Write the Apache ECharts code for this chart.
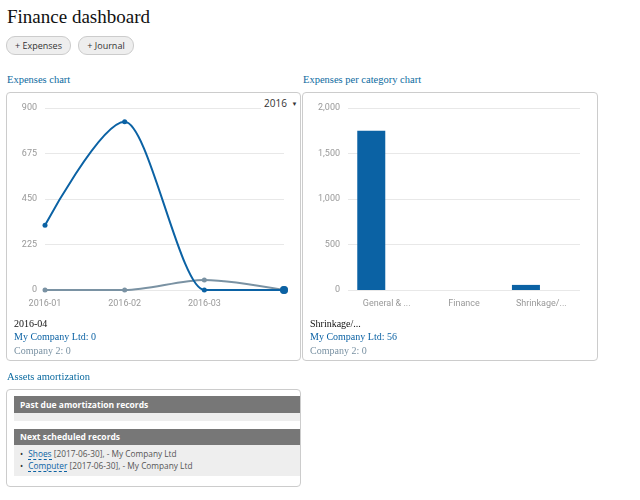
<!DOCTYPE html>
<html lang="en">
<head>
<meta charset="UTF-8">
<title>Finance dashboard</title>
<style>
  * { padding: 0; margin: 0; box-sizing: border-box; }
  body { width: 640px; height: 500px; background: #fff; font-family: "Liberation Serif", serif; position: relative; overflow: hidden; }
  .abs { position: absolute; white-space: nowrap; }
  h1 { font-weight: normal; font-size: 19px; line-height: 24px; color: #111; left: 7px; top: 5px; }
  .btn { top: 36px; height: 19px; border: 1px solid #ccc; border-radius: 9px; background: #eee; font: 9px/17px "Open Sans", sans-serif; color: #333; text-align: center; }
  .head { font-size: 10.5px; line-height: 14px; color: #0b6aa0; }
  .card { border: 1px solid #ccc; border-radius: 4px; background: #fff; }
  .chart { position: absolute; left: 0; top: 0; }
  .tip { font-size: 10px; line-height: 13px; }
  .bar { background: #777; color: #fff; font: bold 8.5px/17px "Open Sans", sans-serif; padding-left: 6px; }
  .pale { background: #eee; }
  .item { font: 8.3px/12px "Open Sans", sans-serif; color: #555; }
  .item b { font-weight: normal; margin-right: 3px; color: #333; }
  .item a { color: #0b62a4; border-bottom: 1px dashed #0b62a4; }
</style>
</head>
<body>
<h1 class="abs">Finance dashboard</h1>
<div class="abs btn" style="left:6px;width:65px">+ Expenses</div>
<div class="abs btn" style="left:78px;width:56px">+ Journal</div>

<div class="abs head" style="left:7px;top:73px">Expenses chart</div>
<div class="abs head" style="left:303px;top:73px">Expenses per category chart</div>

<div class="abs card" style="left:6px;top:92px;width:295px;height:269px">
  <div id="lineChart" class="chart" style="width:293px;height:230px"></div>
  <div class="abs" style="left:254px;top:3px;width:39px;height:16px;background:#fff;font:10px/15px 'Open Sans',sans-serif;color:#333;padding-left:3px">2016 <span style="font-size:6px;vertical-align:1px;margin-left:2px">&#9660;</span></div>
  <div class="abs tip" style="left:7px;top:224px;color:#111">2016-04</div>
  <div class="abs tip" style="left:7px;top:237px;color:#0b62a4">My Company Ltd: 0</div>
  <div class="abs tip" style="left:7px;top:251px;color:#7a92a3">Company 2: 0</div>
</div>

<div class="abs card" style="left:302px;top:92px;width:296px;height:269px">
  <div id="barChart" class="chart" style="width:294px;height:230px"></div>
  <div class="abs tip" style="left:7px;top:224px;color:#111">Shrinkage/...</div>
  <div class="abs tip" style="left:7px;top:237px;color:#0b62a4">My Company Ltd: 56</div>
  <div class="abs tip" style="left:7px;top:251px;color:#7a92a3">Company 2: 0</div>
</div>

<div class="abs head" style="left:7px;top:370px">Assets amortization</div>
<div class="abs card" style="left:6px;top:389px;width:295px;height:98px"></div>
<div class="abs bar" style="left:14px;top:396px;width:286px;height:17px">Past due amortization records</div>
<div class="abs pale" style="left:14px;top:413px;width:286px;height:8px"></div>
<div class="abs bar" style="left:14px;top:429px;width:286px;height:16px;line-height:16px">Next scheduled records</div>
<div class="abs pale" style="left:14px;top:445px;width:286px;height:31px"></div>
<div class="abs item" style="left:20px;top:448px"><b>&#8226;</b> <a>Shoes</a> [2017-06-30], - My Company Ltd</div>
<div class="abs item" style="left:20px;top:460px"><b>&#8226;</b> <a>Computer</a> [2017-06-30], - My Company Ltd</div>

<script src="https://cdn.jsdelivr.net/npm/echarts@6/dist/echarts.min.js"></script>
<script>
var months = ['2016-01', '2016-02', '2016-03', '2016-04'];
var monthCompany1 = [320, 832, 0, 0];
var monthCompany2 = [0, 0, 50, 0];
var monthTicks = [0, 225, 450, 675, 900];

var categories = ['General & ...', 'Finance', 'Shrinkage/...'];
var catCompany1 = [1750, 0, 56];
var catCompany2 = [0, 0, 0];
var catTicks = [0, 500, 1000, 1500, 2000];

var BLUE = '#0b62a4';
var GREY = '#7a92a3';
var labelStyle = { color: '#999', fontSize: 9, fontFamily: 'Roboto, sans-serif' };

function yAxis(ticks) {
    return {
        type: 'value',
        min: ticks[0],
        max: ticks[ticks.length - 1],
        interval: ticks[1] - ticks[0],
        axisLine: { show: false },
        axisTick: { show: false },
        axisLabel: Object.assign({ margin: 8 }, labelStyle),
        splitLine: { lineStyle: { color: '#e8e8e8', width: 1 } }
    };
}

// last month is the hovered one, so it gets the bigger dot
function lineSeries(name, values, color, z) {
    return {
        name: name,
        type: 'line',
        data: values.map(function (v, i) {
            return i == values.length - 1 ? { value: v, symbolSize: 8 } : v;
        }),
        smooth: 0.3,
        smoothMonotone: 'x',
        symbol: 'circle',
        symbolSize: 5,
        z: z,
        animation: false,
        lineStyle: { color: color, width: 2 },
        itemStyle: { color: color }
    };
}

var lineChart = echarts.init(document.getElementById('lineChart'));
lineChart.setOption({
    animation: false,
    grid: { left: 38, right: 16, top: 15, bottom: 33 },
    xAxis: {
        type: 'category',
        data: months,
        boundaryGap: false,
        axisLine: { show: false },
        axisTick: { show: false },
        axisLabel: Object.assign({
            margin: 9,
            interval: function (i) { return i < months.length - 1; }
        }, labelStyle)
    },
    yAxis: yAxis(monthTicks),
    series: [
        lineSeries('Company 2', monthCompany2, GREY, 2),
        lineSeries('My Company Ltd', monthCompany1, BLUE, 3)
    ]
});

function barSeries(name, values, color) {
    return {
        name: name,
        type: 'bar',
        data: values,
        barWidth: 28,
        barGap: '10%',
        itemStyle: { color: color }
    };
}

var barChart = echarts.init(document.getElementById('barChart'));
barChart.setOption({
    animation: false,
    grid: { left: 45, right: 17, top: 15, bottom: 33 },
    xAxis: {
        type: 'category',
        data: categories,
        axisLine: { show: false },
        axisTick: { show: false },
        axisLabel: Object.assign({ margin: 9, interval: 0 }, labelStyle)
    },
    yAxis: yAxis(catTicks),
    series: [
        barSeries('My Company Ltd', catCompany1, BLUE),
        barSeries('Company 2', catCompany2, GREY)
    ]
});
</script>
</body>
</html>
